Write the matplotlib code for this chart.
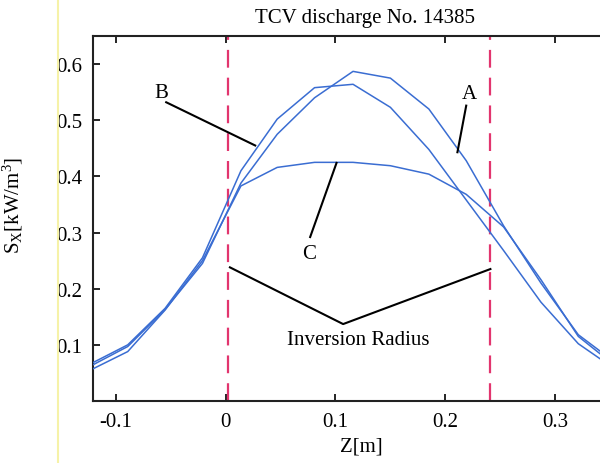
import matplotlib.pyplot as plt
import matplotlib.lines as mlines

plt.rcParams['font.family'] = ['Liberation Serif', 'DejaVu Serif']
plt.rcParams['mathtext.fontset'] = 'custom'
plt.rcParams['mathtext.rm'] = 'Liberation Serif'
plt.rcParams['mathtext.it'] = 'Liberation Serif'

# profile sample positions Z [m]
z = [-0.123, -0.089, -0.055, -0.021, 0.014, 0.047, 0.081, 0.116,
     0.150, 0.185, 0.219, 0.253, 0.287, 0.321, 0.355]
# S_X [kW/m^3] for the three profiles
sx_a = [0.062, 0.097, 0.163, 0.245, 0.388, 0.475, 0.540, 0.587,
        0.575, 0.520, 0.428, 0.312, 0.210, 0.118, 0.068]
sx_b = [0.066, 0.100, 0.165, 0.255, 0.410, 0.502, 0.558, 0.564,
        0.523, 0.448, 0.358, 0.268, 0.176, 0.102, 0.056]
sx_c = [0.055, 0.088, 0.162, 0.250, 0.383, 0.416, 0.425, 0.425,
        0.419, 0.404, 0.368, 0.310, 0.216, 0.115, 0.062]

inv_radius = [0.002, 0.241]
xticks = [-0.1, 0, 0.1, 0.2, 0.3]
yticks = [0.1, 0.2, 0.3, 0.4, 0.5, 0.6]

W, H = 600, 464
fig = plt.figure(figsize=(6, 4.64), dpi=100, facecolor='w')
# axes runs past the right edge of the picture (cropped scan)
ax = fig.add_axes([93 / W, (H - 402) / H, (637 - 93) / W, (402 - 37) / H])
ax.set_xlim(-0.1206, 0.3744)
ax.set_ylim(0, 0.65)

blue = '#3a6dd2'
for s in (sx_a, sx_b, sx_c):
    ax.plot(z, s, color=blue, lw=1.1, zorder=3)

for r in inv_radius:
    ax.axvline(r, color='#e2356e', lw=1.6, ls=(0, (8, 4.5)), zorder=2)

# annotations
k = dict(color='k', lw=1.5, zorder=4)
ax.plot([-0.054, 0.027], [0.532, 0.455], **k)
ax.plot([0.219, 0.211], [0.526, 0.443], **k)
ax.plot([0.077, 0.101], [0.292, 0.424], **k)
ax.plot([0.004, 0.107, 0.241], [0.238, 0.137, 0.235], **k)

tfs = 15
ax.text(-0.058, 0.549, 'B', fontsize=tfs, ha='center', va='center')
ax.text(0.222, 0.548, 'A', fontsize=tfs, ha='center', va='center')
ax.text(0.076, 0.263, 'C', fontsize=tfs, ha='center', va='center')
ax.text(0.121, 0.110, 'Inversion Radius', fontsize=tfs,
        ha='center', va='center')

ax.set_xticks(xticks)
ax.set_xticklabels(['-0.1', '0', '0.1', '0.2', '0.3'])
ax.set_yticks(yticks)
ax.tick_params(direction='in', length=5, width=1.2, labelsize=tfs,
               top=True, right=False, pad=8)
for sp in ax.spines.values():
    sp.set_linewidth(1.5)
    sp.set_color('#222222')

ax.set_xlabel('Z[m]', fontsize=tfs)
ax.xaxis.set_label_coords(0.494, -0.096)
ax.set_ylabel(r'S$_\mathrm{X}$[kW/m$^3$]', fontsize=tfs)
ax.yaxis.set_label_coords(-0.125, 0.54)

fig.text(365 / W, 1 - 19 / H, 'TCV discharge No. 14385', fontsize=tfs,
         ha='center', va='center')

# faint yellow scan streak at the left
fig.add_artist(mlines.Line2D([58 / W, 58 / W], [0, 1], color='#f6f2a8',
                             lw=1.5, transform=fig.transFigure))

fig.savefig('out.png', dpi=100, facecolor='w')
